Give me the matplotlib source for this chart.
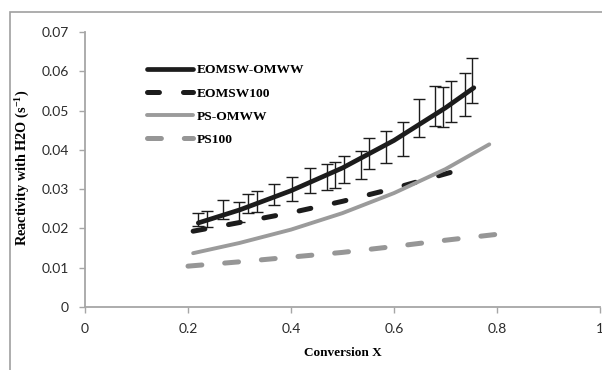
import matplotlib
matplotlib.use("Agg")
import matplotlib.pyplot as plt
from matplotlib.patches import Rectangle

# -------------------------------
# Data
# -------------------------------

# trend curves (x = conversion, y = reactivity)
x_eomsw_omww = [0.22, 0.30, 0.40, 0.50, 0.60, 0.70, 0.755]
y_eomsw_omww = [0.0214, 0.0247, 0.0296, 0.0354, 0.0424, 0.0507, 0.0558]

x_eomsw100 = [0.21, 0.30, 0.40, 0.50, 0.60, 0.70, 0.735]
y_eomsw100 = [0.0193, 0.0215, 0.0240, 0.0269, 0.0302, 0.0339, 0.0352]

x_ps_omww = [0.21, 0.30, 0.40, 0.50, 0.60, 0.70, 0.785]
y_ps_omww = [0.0137, 0.0163, 0.0197, 0.0239, 0.0290, 0.0351, 0.0414]

x_ps100 = [0.20, 0.30, 0.40, 0.50, 0.60, 0.70, 0.80]
y_ps100 = [0.0104, 0.0115, 0.0127, 0.0139, 0.0154, 0.0170, 0.0185]

# error bars of EOMSW-OMWW measurements
x_err = [0.219, 0.237, 0.268, 0.299, 0.317, 0.334, 0.367, 0.402, 0.437, 0.470, 0.485,
         0.503, 0.536, 0.551, 0.584, 0.617, 0.649, 0.680, 0.695, 0.711, 0.738, 0.751]
y_err_mid = [0.0223, 0.0224, 0.0248, 0.0242, 0.0263, 0.0268, 0.0286, 0.0300, 0.0322, 0.0331, 0.0336,
             0.0350, 0.0361, 0.0391, 0.0407, 0.0427, 0.0481, 0.0511, 0.0509, 0.0523, 0.0541, 0.0576]
y_err_half = [0.0017, 0.0020, 0.0024, 0.0026, 0.0024, 0.0027, 0.0027, 0.0031, 0.0032, 0.0033, 0.0033,
              0.0034, 0.0036, 0.0039, 0.0041, 0.0043, 0.0048, 0.0051, 0.0051, 0.0052, 0.0055, 0.0057]

x_ticks = [0, 0.2, 0.4, 0.6, 0.8, 1]
x_tick_labels = ["0", "0.2", "0.4", "0.6", "0.8", "1"]
y_ticks = [0, 0.01, 0.02, 0.03, 0.04, 0.05, 0.06, 0.07]
y_tick_labels = ["0", "0.01", "0.02", "0.03", "0.04", "0.05", "0.06", "0.07"]

# -------------------------------
# Style
# -------------------------------
plt.rcParams["lines.scale_dashes"] = False
plt.rcParams["mathtext.fontset"] = "custom"
plt.rcParams["mathtext.rm"] = "Liberation Serif:bold"
plt.rcParams["mathtext.bf"] = "Liberation Serif:bold"

black = "#1c1c1c"
gray = "#9b9b9b"
axis_gray = "#a6a6a6"

fig = plt.figure(figsize=(6.02, 3.70), dpi=100)
ax = fig.add_axes([85 / 602, 1 - 307 / 370, 515 / 602, 275 / 370])

# outer frame of the chart area
fig.patches.append(Rectangle((9.5 / 602, -0.1), 1.2, 1.1 - 12 / 370,
                             transform=fig.transFigure, fill=False,
                             edgecolor="#a0a0a0", linewidth=1.2))

ax.plot(x_eomsw_omww, y_eomsw_omww, color=black, lw=3.4,
        solid_capstyle="round", label="EOMSW-OMWW", zorder=3)
ax.errorbar(x_err, y_err_mid, yerr=y_err_half, fmt="none", ecolor=black,
            elinewidth=1.0, capsize=4.5, capthick=1.0, zorder=4)
ax.plot(x_eomsw100, y_eomsw100, color=black, lw=3.6, dashes=(8.6, 17.3),
        dash_capstyle="round", label="EOMSW100", zorder=3)
ax.plot(x_ps_omww, y_ps_omww, color=gray, lw=2.8,
        solid_capstyle="round", label="PS-OMWW", zorder=3)
ax.plot(x_ps100, y_ps100, color="#969696", lw=3.6, dashes=(10, 16.5),
        dash_capstyle="round", label="PS100", zorder=3)

ax.set_xlim(0, 1)
ax.set_ylim(0, 0.07)
ax.set_xticks(x_ticks)
ax.set_xticklabels(x_tick_labels)
ax.set_yticks(y_ticks)
ax.set_yticklabels(y_tick_labels)

for side in ["top", "right"]:
    ax.spines[side].set_visible(False)
for side in ["left", "bottom"]:
    ax.spines[side].set_color(axis_gray)
    ax.spines[side].set_linewidth(1.3)

ax.tick_params(axis="both", direction="out", length=4.5, width=1.0,
               color=axis_gray, labelsize=10, labelcolor="#2b2b2b")
ax.tick_params(axis="y", pad=7)
ax.tick_params(axis="x", pad=7)
for lab in ax.get_xticklabels() + ax.get_yticklabels():
    lab.set_fontfamily("Lato")

ax.set_xlabel("Conversion X", family="Liberation Serif", weight="bold", size=9.5)
ax.xaxis.set_label_coords(0.5, -0.145)
ax.set_ylabel(r"Reactivity with H2O (s$^{\mathbf{-1}}$)",
              family="Liberation Serif", weight="bold", size=10.3)
ax.yaxis.set_label_coords(-0.104, 0.505)

leg = ax.legend(loc="upper left", bbox_to_anchor=(147 / 602, 1 - 64 / 370),
                bbox_transform=fig.transFigure, frameon=False,
                prop={"family": "Liberation Serif", "weight": "bold", "size": 9.7},
                handlelength=3.4, handletextpad=0.3, labelspacing=0.8,
                borderpad=0, borderaxespad=0)

fig.savefig("out.png", dpi=100)
